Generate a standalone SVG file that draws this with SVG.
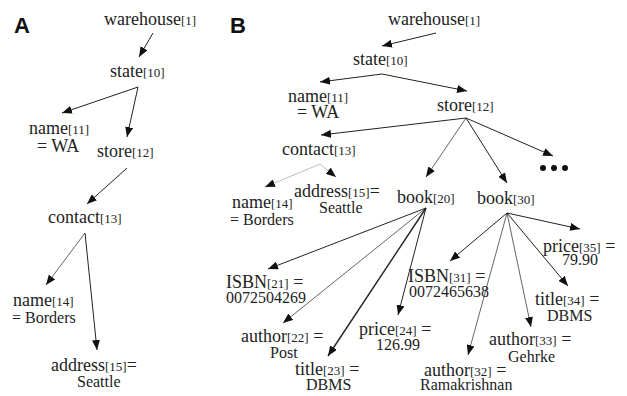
<svg xmlns="http://www.w3.org/2000/svg" width="627" height="396" viewBox="0 0 627 396">
<style>
text{font-family:"Liberation Serif","Times New Roman",serif;font-size:18px;fill:#222}
.s{font-size:13px}
.v{font-size:16px}
.p{font-family:"Liberation Sans",Arial,sans-serif;font-weight:bold;font-size:22px;fill:#111}
line{stroke:#222;stroke-width:1;fill:none}
.t{stroke-width:0.7}
.tt{stroke-width:0.5;stroke:#777}
.k{stroke-width:1.4}
</style>
<defs>
<marker id="ah" markerUnits="userSpaceOnUse" markerWidth="11" markerHeight="8" refX="10" refY="4" orient="auto">
<path d="M0,0 L10,4 L0,8 z" fill="#111"/>
</marker>
</defs>
<rect width="627" height="396" fill="#fff"/>
<text class="p" x="14" y="33">A</text>
<text class="p" x="230" y="33">B</text>

<g id="connectors" marker-end="url(#ah)">
<line x1="153" y1="33" x2="139" y2="57" marker-end="url(#ah)"/>
<line x1="138" y1="87" x2="62" y2="113" marker-end="url(#ah)"/>
<line x1="138" y1="87" x2="127" y2="137" marker-end="url(#ah)"/>
<line x1="127" y1="168" x2="87" y2="204" marker-end="url(#ah)"/>
<line class="t" x1="85" y1="233" x2="46" y2="285" marker-end="url(#ah)"/>
<line x1="85" y1="233" x2="97" y2="350" marker-end="url(#ah)"/>

<line x1="436" y1="33" x2="382" y2="46" marker-end="url(#ah)"/>
<line x1="382" y1="74" x2="320" y2="82" marker-end="url(#ah)"/>
<line x1="382" y1="74" x2="467" y2="91" marker-end="url(#ah)"/>
<line x1="466" y1="118" x2="321" y2="135" marker-end="url(#ah)"/>
<line class="t" x1="466" y1="118" x2="426" y2="177" marker-end="url(#ah)"/>
<line x1="466" y1="118" x2="507" y2="183" marker-end="url(#ah)"/>
<line x1="466" y1="118" x2="553" y2="156" marker-end="url(#ah)"/>
<line class="tt" x1="320" y1="164" x2="265" y2="187" marker-end="url(#ah)"/>
<line class="tt" x1="320" y1="164" x2="336" y2="177" marker-end="url(#ah)"/>
<line x1="426" y1="208" x2="268" y2="269" marker-end="url(#ah)"/>
<line class="t" x1="426" y1="208" x2="283" y2="323" marker-end="url(#ah)"/>
<line class="k" x1="426" y1="208" x2="328" y2="356" marker-end="url(#ah)"/>
<line x1="426" y1="208" x2="398" y2="315" marker-end="url(#ah)"/>
<line x1="507" y1="213" x2="450" y2="261" marker-end="url(#ah)"/>
<line class="t" x1="507" y1="213" x2="468" y2="355" marker-end="url(#ah)"/>
<line class="t" x1="507" y1="213" x2="531" y2="327" marker-end="url(#ah)"/>
<line x1="507" y1="213" x2="568" y2="286" marker-end="url(#ah)"/>
<line x1="507" y1="213" x2="580" y2="229" marker-end="url(#ah)"/>
</g>

<g id="a-warehouse"><text x="104" y="25">warehouse<tspan class="s">[1]</tspan></text></g>
<g id="a-state"><text x="110" y="77">state<tspan class="s">[10]</tspan></text></g>
<g id="a-name11"><text x="29" y="134">name<tspan class="s">[11]</tspan></text><text x="37" y="152">= WA</text></g>
<g id="a-store"><text x="97" y="157">store<tspan class="s">[12]</tspan></text></g>
<g id="a-contact"><text x="48" y="223">contact<tspan class="s">[13]</tspan></text></g>
<g id="a-name14"><text x="13" y="306">name<tspan class="s">[14]</tspan></text><text class="v" x="12" y="323">= Borders</text></g>
<g id="a-address"><text x="51" y="371">address<tspan class="s">[15]</tspan>=</text><text class="v" x="77" y="387">Seattle</text></g>

<g id="b-warehouse"><text x="388" y="25">warehouse<tspan class="s">[1]</tspan></text></g>
<g id="b-state"><text x="353" y="65">state<tspan class="s">[10]</tspan></text></g>
<g id="b-name11"><text x="288" y="102">name<tspan class="s">[11]</tspan></text><text x="297" y="118">= WA</text></g>
<g id="b-store"><text x="437" y="111">store<tspan class="s">[12]</tspan></text></g>
<g id="b-contact"><text x="282" y="155">contact<tspan class="s">[13]</tspan></text></g>
<g id="b-more"><circle cx="543" cy="168" r="3" fill="#111"/><circle cx="554" cy="168" r="3" fill="#111"/><circle cx="565" cy="168" r="3" fill="#111"/></g>
<g id="b-name14"><text x="232" y="208">name<tspan class="s">[14]</tspan></text><text class="v" x="230" y="225">= Borders</text></g>
<g id="b-address"><text x="294" y="197">address<tspan class="s">[15]</tspan>=</text><text class="v" x="319" y="213">Seattle</text></g>
<g id="b-book20"><text x="397" y="203">book<tspan class="s">[20]</tspan></text></g>
<g id="b-book30"><text x="477" y="204">book<tspan class="s">[30]</tspan></text></g>
<g id="b-isbn21"><text x="226" y="288">ISBN<tspan class="s">[21]</tspan> =</text><text class="v" x="226" y="303">0072504269</text></g>
<g id="b-author22"><text x="241" y="342">author<tspan class="s">[22]</tspan> =</text><text class="v" x="270" y="358">Post</text></g>
<g id="b-title23"><text x="295" y="375">title<tspan class="s">[23]</tspan> =</text><text class="v" x="306" y="390">DBMS</text></g>
<g id="b-price24"><text x="359" y="335">price<tspan class="s">[24]</tspan> =</text><text class="v" x="376" y="350">126.99</text></g>
<g id="b-isbn31"><text x="408" y="282">ISBN<tspan class="s">[31]</tspan> =</text><text class="v" x="409" y="297">0072465638</text></g>
<g id="b-author32"><text x="424" y="376">author<tspan class="s">[32]</tspan> =</text><text class="v" x="420" y="390">Ramakrishnan</text></g>
<g id="b-author33"><text x="489" y="345">author<tspan class="s">[33]</tspan> =</text><text class="v" x="508" y="362">Gehrke</text></g>
<g id="b-title34"><text x="535" y="305">title<tspan class="s">[34]</tspan> =</text><text class="v" x="547" y="321">DBMS</text></g>
<g id="b-price35"><text x="543" y="252">price<tspan class="s">[35]</tspan> =</text><text class="v" x="562" y="265">79.90</text></g>
</svg>
